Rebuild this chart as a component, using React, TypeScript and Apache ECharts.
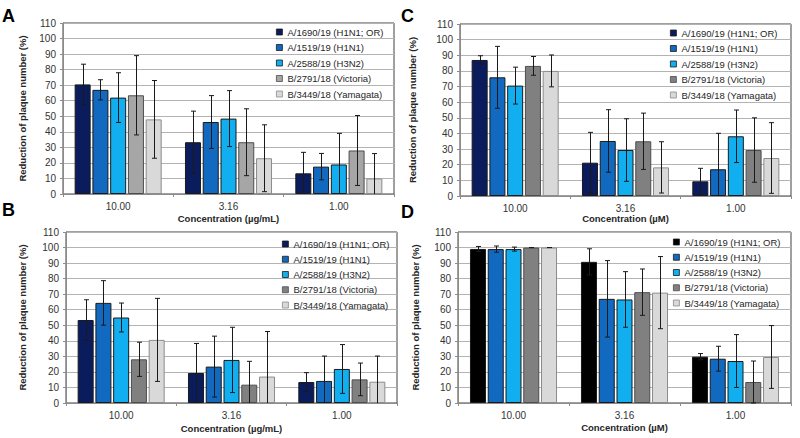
import React, { useEffect, useRef } from 'react';
import * as echarts from 'echarts';

const categories = ['10.00', '3.16', '1.00'];
const strainNames = [
  'A/1690/19 (H1N1; OR)',
  'A/1519/19 (H1N1)',
  'A/2588/19 (H3N2)',
  'B/2791/18 (Victoria)',
  'B/3449/18 (Yamagata)',
];
const yTicksMax = 110;
const yTickStep = 10;

// Panel A (µg/mL)
const panelAValues = [
  [70.5, 33.3, 13.3],
  [67.0, 46.3, 17.6],
  [62.0, 48.5, 19.0],
  [63.5, 33.3, 28.0],
  [48.0, 23.0, 10.0],
];
const panelAErrors = [
  [13.0, 20.0, 13.5],
  [6.5, 17.0, 8.5],
  [16.0, 18.0, 20.0],
  [25.5, 21.5, 22.5],
  [25.0, 21.5, 16.0],
];

// Panel B (µg/mL)
const panelBValues = [
  [53.4, 19.3, 13.5],
  [64.4, 23.4, 14.2],
  [55.0, 27.7, 21.9],
  [28.1, 11.8, 15.2],
  [40.6, 17.0, 13.7],
];
const panelBErrors = [
  [13.0, 19.0, 6.0],
  [14.3, 19.6, 16.0],
  [9.3, 21.0, 15.7],
  [11.0, 15.0, 10.5],
  [26.7, 29.0, 16.5],
];

// Panel C (µM)
const panelCValues = [
  [87.0, 21.3, 9.4],
  [75.9, 35.2, 17.1],
  [70.6, 29.4, 38.2],
  [83.2, 35.0, 29.4],
  [80.0, 18.3, 24.3],
];
const panelCErrors = [
  [2.7, 19.4, 8.3],
  [19.8, 20.0, 23.0],
  [11.8, 20.0, 16.8],
  [6.0, 18.0, 20.6],
  [10.2, 16.4, 22.6],
];

// Panel D (µM)
const panelDValues = [
  [99.1, 90.8, 29.8],
  [99.0, 67.0, 28.5],
  [99.0, 66.6, 27.0],
  [100.0, 71.3, 13.5],
  [100.0, 71.0, 29.6],
];
const panelDErrors = [
  [1.6, 8.4, 2.0],
  [2.0, 24.6, 8.0],
  [1.3, 17.9, 17.0],
  [0.0, 14.9, 13.5],
  [0.0, 23.2, 20.2],
];

const xTitleMass = 'Concentration (µg/mL)';
const xTitleMolar = 'Concentration (µM)';
const yTitle = 'Reduction of plaque number (%)';

const FONT = '"Liberation Sans", Arial, Helvetica, sans-serif';
const BAR_W = 16;
const BAR_GAP = 0.11;

const colorsA = ['#0b1c5c', '#1169c0', '#12aff0', '#a6a6a6', '#d9d9d9'];
const colorsBC = ['#0b1c5c', '#1169c0', '#12aff0', '#808080', '#d9d9d9'];
const colorsD = ['#000000', '#1169c0', '#12aff0', '#808080', '#d9d9d9'];
const borderColors = ['#1a1a1a', '#1a1a1a', '#1a1a1a', '#4d4d4d', '#8c8c8c'];

type Panel = {
  label: string;
  labelPos: [number, number];
  values: number[][];
  errors: number[][];
  colors: string[];
  xTitle: string;
  grid: { left: number; top: number; width: number; height: number };
  xNameGap: number;
  yNameGap: number;
  legendPos: { left: number; top: number; gap: number };
};

const panels: Panel[] = [
  {
    label: 'A', labelPos: [2, 7], values: panelAValues, errors: panelAErrors, colors: colorsA,
    xTitle: xTitleMass, grid: { left: 63, top: 23, width: 331, height: 171 },
    xNameGap: 19, yNameGap: 36, legendPos: { left: 276, top: 26, gap: 3.5 },
  },
  {
    label: 'B', labelPos: [2, 201], values: panelBValues, errors: panelBErrors, colors: colorsBC,
    xTitle: xTitleMass, grid: { left: 66, top: 232, width: 331, height: 171 },
    xNameGap: 20, yNameGap: 39, legendPos: { left: 282, top: 238, gap: 3.25 },
  },
  {
    label: 'C', labelPos: [401, 7], values: panelCValues, errors: panelCErrors, colors: colorsBC,
    xTitle: xTitleMolar, grid: { left: 460, top: 24, width: 331, height: 172 },
    xNameGap: 17, yNameGap: 43, legendPos: { left: 670, top: 27, gap: 3.5 },
  },
  {
    label: 'D', labelPos: [401, 203], values: panelDValues, errors: panelDErrors, colors: colorsD,
    xTitle: xTitleMolar, grid: { left: 458, top: 232, width: 333, height: 171 },
    xNameGap: 19, yNameGap: 38, legendPos: { left: 673, top: 236, gap: 3.25 },
  },
];

function buildOption() {
  const grids: any[] = [];
  const xAxes: any[] = [];
  const yAxes: any[] = [];
  const legends: any[] = [];
  const series: any[] = [];
  const graphics: any[] = [];

  panels.forEach((p, pi) => {
    grids.push({
      ...p.grid,
      show: true,
      borderColor: '#404040',
      borderWidth: 1,
      backgroundColor: 'transparent',
      containLabel: false,
    });
    xAxes.push({
      type: 'category',
      gridIndex: pi,
      data: categories,
      name: p.xTitle,
      nameLocation: 'middle',
      nameGap: p.xNameGap,
      nameTextStyle: { fontFamily: FONT, fontSize: 9.5, fontWeight: 'bold', color: '#262626' },
      axisLine: { lineStyle: { color: '#8c8c8c', width: 1 } },
      axisTick: { show: true, length: 3, lineStyle: { color: '#8c8c8c' } },
      axisLabel: { fontFamily: FONT, fontSize: 10, color: '#333', margin: 7 },
      splitLine: { show: false },
    });
    yAxes.push({
      type: 'value',
      gridIndex: pi,
      min: 0,
      max: yTicksMax,
      interval: yTickStep,
      name: yTitle,
      nameLocation: 'middle',
      nameRotate: 90,
      nameGap: p.yNameGap,
      nameTextStyle: { fontFamily: FONT, fontSize: 9.5, fontWeight: 'bold', color: '#262626' },
      axisLine: { show: true, lineStyle: { color: '#8c8c8c', width: 1 } },
      axisTick: { show: true, length: 3, lineStyle: { color: '#8c8c8c' } },
      axisLabel: { fontFamily: FONT, fontSize: 10, color: '#333', margin: 7 },
      splitLine: { show: true, lineStyle: { color: '#b3b3b3', width: 1 } },
    });
    legends.push({
      orient: 'vertical',
      left: p.legendPos.left,
      top: p.legendPos.top,
      itemWidth: 6,
      itemHeight: 6,
      itemGap: p.legendPos.gap,
      icon: 'rect',
      selectedMode: false,
      padding: 0,
      textStyle: { fontFamily: FONT, fontSize: 9.5, color: '#262626', lineHeight: 12 },
      data: strainNames.map((n, si) => ({
        name: n,
        itemStyle: { color: p.colors[si], borderColor: borderColors[si], borderWidth: 0.8 },
      })),
    });

    p.values.forEach((vals, si) => {
      series.push({
        type: 'bar',
        name: strainNames[si],
        xAxisIndex: pi,
        yAxisIndex: pi,
        data: vals,
        barWidth: BAR_W,
        barGap: `${BAR_GAP * 100}%`,
        itemStyle: { color: p.colors[si], borderColor: borderColors[si], borderWidth: 1 },
        z: 2,
      });
    });

    p.values.forEach((vals, si) => {
      const offset = (si - 2) * BAR_W * (1 + BAR_GAP);
      const errs = p.errors[si];
      series.push({
        type: 'custom',
        name: `err-${p.label}-${si}`,
        xAxisIndex: pi,
        yAxisIndex: pi,
        z: 5,
        clip: false,
        encode: { x: 0, y: 1 },
        data: vals.map((v, ci) => [ci, v, errs[ci]]),
        renderItem: (params: any, api: any) => {
          const ci = api.value(0);
          const v = api.value(1);
          const e = api.value(2);
          const c = api.coord([ci, v]);
          const x = Math.round(c[0] + offset) + 0.5;
          const yTop = api.coord([ci, v + e])[1];
          const lowVal = v - e;
          const clipped = lowVal < 0;
          const yBot = api.coord([ci, Math.max(lowVal, 0)])[1];
          const cap = 2.5;
          const style = { stroke: '#1a1a1a', lineWidth: 1 };
          const children: any[] = [
            { type: 'line', shape: { x1: x, y1: yTop, x2: x, y2: yBot }, style },
            { type: 'line', shape: { x1: x - cap, y1: yTop, x2: x + cap, y2: yTop }, style },
          ];
          if (!clipped) {
            children.push({ type: 'line', shape: { x1: x - cap, y1: yBot, x2: x + cap, y2: yBot }, style });
          }
          return { type: 'group', children };
        },
      });
    });

    graphics.push({
      type: 'text',
      left: p.labelPos[0],
      top: p.labelPos[1],
      style: { text: p.label, fontFamily: FONT, fontSize: 18, fontWeight: 'bold', fill: '#000' },
    });
  });

  return {
    animation: false,
    backgroundColor: '#ffffff',
    grid: grids,
    xAxis: xAxes,
    yAxis: yAxes,
    legend: legends,
    series,
    graphic: graphics,
  };
}

export default function App() {
  const ref = useRef<HTMLDivElement>(null);
  useEffect(() => {
    if (!ref.current) return;
    const chart = echarts.init(ref.current, undefined, { renderer: 'svg' });
    chart.setOption(buildOption() as any);
    return () => chart.dispose();
  }, []);
  return (
    <div
      ref={ref}
      style={{ position: 'fixed', left: 0, top: 0, width: 800, height: 438, background: '#fff' }}
    />
  );
}
